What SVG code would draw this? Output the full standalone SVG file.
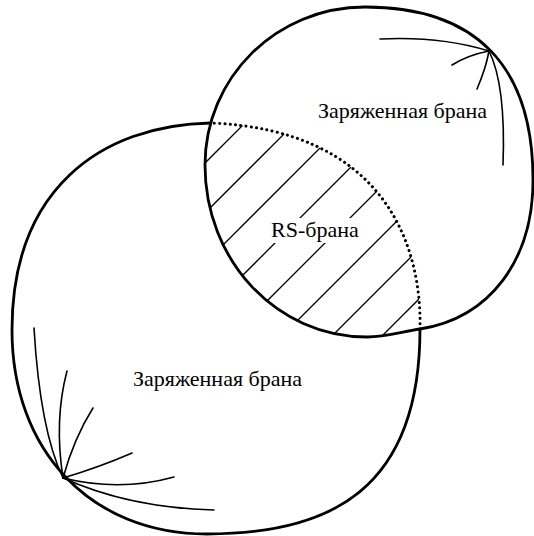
<svg xmlns="http://www.w3.org/2000/svg" width="534" height="536" viewBox="0 0 534 536">
<style>
.outline{fill:none;stroke:#000;stroke-width:2.8;stroke-linejoin:round}
.dotted{fill:none;stroke:#000;stroke-width:3;stroke-linecap:round;stroke-dasharray:0.1 5.2}
.fan{fill:none;stroke:#000;stroke-width:1.6;stroke-linecap:round}
.hatch{stroke:#000;stroke-width:1.3}
.lbl{font-family:'Liberation Serif',serif;font-size:22px;fill:#000}
</style>
<defs>
<clipPath id="cu"><path d="M 365 7 C 475 7, 533 65, 533 180 C 533 260, 490 318, 420 329 C 400 332.2, 385 337, 367 337 C 276 337, 205 260, 205 165 C 205 78, 276 7, 365 7 Z"/></clipPath>
<clipPath id="cb"><path d="M 211 123 C 100 125, 12 190, 12 330 C 12 450, 90 534, 207 534 C 330 534, 420 490, 420 329 C 422 240, 380 130, 211 123 Z"/></clipPath>
</defs>
<g id="rs-brane">
<g clip-path="url(#cu)"><g clip-path="url(#cb)">
<line class="hatch" x1="100" y1="268" x2="300" y2="68"/>
<line class="hatch" x1="150" y1="268" x2="350" y2="68"/>
<line class="hatch" x1="150" y1="318" x2="400" y2="68"/>
<line class="hatch" x1="200" y1="318" x2="450" y2="68"/>
<line class="hatch" x1="200" y1="368" x2="450" y2="118"/>
<line class="hatch" x1="250" y1="368" x2="450" y2="168"/>
<line class="hatch" x1="300" y1="368" x2="450" y2="218"/>
<line class="hatch" x1="350" y1="368" x2="450" y2="268"/>
</g></g>
<rect x="268" y="218" width="93" height="25" fill="#fff"/>
<text class="lbl" x="271" y="237">RS-брана</text>
</g>
<g id="upper-brane">
<path class="outline" d="M 365 7 C 475 7, 533 65, 533 180 C 533 260, 490 318, 420 329 C 400 332.2, 385 337, 367 337 C 276 337, 205 260, 205 165 C 205 78, 276 7, 365 7 Z"/>
<path class="fan" d="M 489 51 Q 440 36 380 39"/>
<path class="fan" d="M 489 51 Q 468 55 452 65"/>
<path class="fan" d="M 489 51 Q 486 68 477 89"/>
<path class="fan" d="M 489 51 Q 506 85 503 165"/>
<text class="lbl" x="318" y="118">Заряженная брана</text>
</g>
<g id="lower-brane">
<path class="outline" d="M 211 123 C 100 125, 12 190, 12 330 C 12 450, 90 534, 207 534 C 330 534, 420 490, 420 329"/>
<path class="fan" d="M 63 478 Q 40 430 34 328"/>
<path class="fan" d="M 63 478 Q 54 420 67 371"/>
<path class="fan" d="M 63 478 Q 74 438 93 408"/>
<path class="fan" d="M 63 478 Q 100 467 132 453"/>
<path class="fan" d="M 63 478 Q 120 492 174 477"/>
<path class="fan" d="M 63 478 Q 130 508 214 510"/>
<text class="lbl" x="133" y="386">Заряженная брана</text>
</g>
<g id="connectors">
<path class="dotted" d="M 420 329 C 422 240, 380 130, 211 123"/>
</g>
</svg>
